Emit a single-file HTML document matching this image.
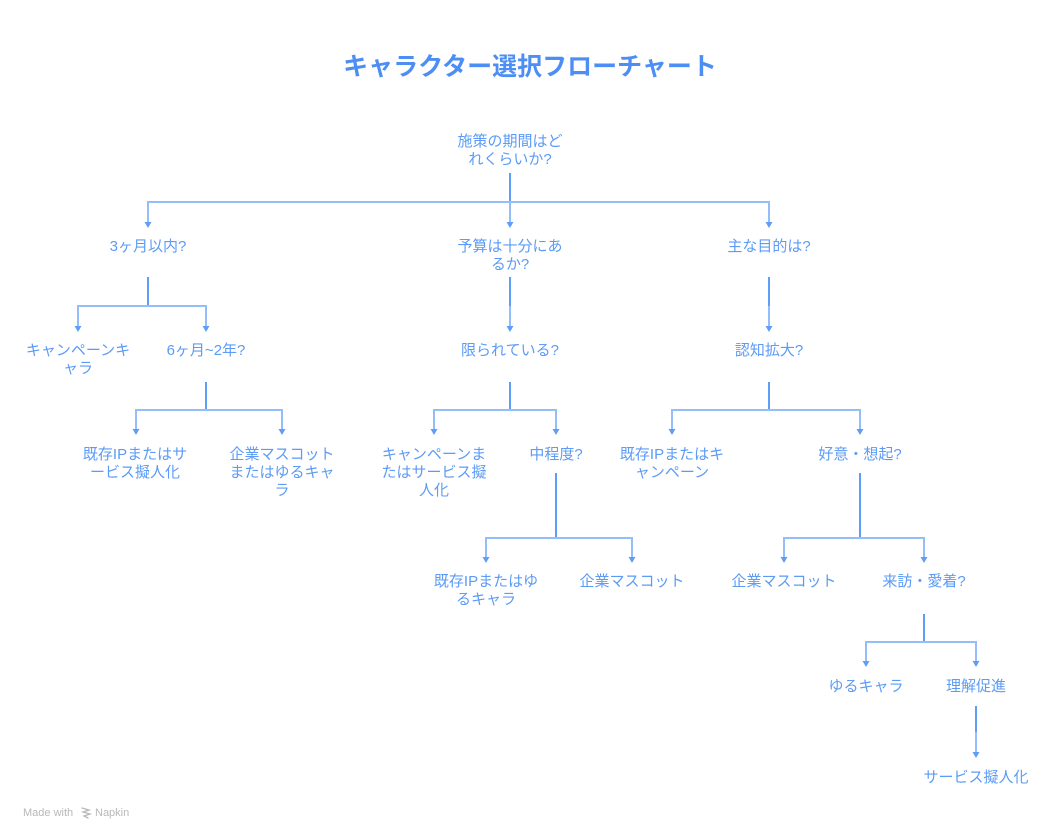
<!DOCTYPE html>
<html>
<head>
<meta charset="utf-8">
<style>
  html, body { margin: 0; padding: 0; background: #ffffff; }
  body { width: 1060px; height: 840px; overflow: hidden; }
  svg { display: block; }
  .t { font-family: "Liberation Sans", "Noto Sans CJK JP", sans-serif; font-size: 15px; fill: #5c9bf6; text-anchor: middle; }
  .title { font-family: "Liberation Sans", "Noto Sans CJK JP", sans-serif; font-size: 25px; font-weight: bold; fill: #4d8ef5; text-anchor: middle; }
  .s { stroke: #5e9df8; stroke-width: 2; fill: none; }
  .b { stroke: #94bdfb; stroke-width: 2; fill: none; }
  .h { fill: #5e9df8; }
  .wm { font-family: "Liberation Sans", sans-serif; font-size: 11px; fill: #b8b8b8; }
</style>
</head>
<body>
<svg width="1060" height="840" viewBox="0 0 1060 840" xmlns="http://www.w3.org/2000/svg">
  <text class="title" x="530" y="75">キャラクター選択フローチャート</text>

  <!-- Root -->
  <text class="t" x="510" y="146">施策の期間はど</text>
  <text class="t" x="510" y="164">れくらいか?</text>

  <!-- Level 1 connectors -->
  <line class="s" x1="510" y1="173" x2="510" y2="202"/>
  <line class="b" x1="147" y1="202" x2="770" y2="202"/>
  <line class="b" x1="148" y1="202" x2="148" y2="223"/>
  <line class="b" x1="510" y1="202" x2="510" y2="223"/>
  <line class="b" x1="769" y1="202" x2="769" y2="223"/>
  <polygon class="h" points="144.5,222 151.5,222 148,228"/>
  <polygon class="h" points="506.5,222 513.5,222 510,228"/>
  <polygon class="h" points="765.5,222 772.5,222 769,228"/>

  <!-- Level 1 nodes -->
  <text class="t" x="148" y="251">3ヶ月以内?</text>
  <text class="t" x="510" y="251">予算は十分にあ</text>
  <text class="t" x="510" y="269">るか?</text>
  <text class="t" x="769" y="251">主な目的は?</text>

  <!-- Level 2 connectors -->
  <line class="s" x1="148" y1="277" x2="148" y2="306"/>
  <line class="b" x1="77" y1="306" x2="207" y2="306"/>
  <line class="b" x1="78" y1="306" x2="78" y2="327"/>
  <line class="b" x1="206" y1="306" x2="206" y2="327"/>
  <polygon class="h" points="74.5,326 81.5,326 78,332"/>
  <polygon class="h" points="202.5,326 209.5,326 206,332"/>

  <line class="s" x1="510" y1="277" x2="510" y2="306"/>
  <line class="b" x1="510" y1="306" x2="510" y2="327"/>
  <polygon class="h" points="506.5,326 513.5,326 510,332"/>

  <line class="s" x1="769" y1="277" x2="769" y2="306"/>
  <line class="b" x1="769" y1="306" x2="769" y2="327"/>
  <polygon class="h" points="765.5,326 772.5,326 769,332"/>

  <!-- Level 2 nodes -->
  <text class="t" x="78" y="355">キャンペーンキ</text>
  <text class="t" x="78" y="373">ャラ</text>
  <text class="t" x="206" y="355">6ヶ月~2年?</text>
  <text class="t" x="510" y="355">限られている?</text>
  <text class="t" x="769" y="355">認知拡大?</text>

  <!-- Level 3 connectors -->
  <line class="s" x1="206" y1="382" x2="206" y2="410"/>
  <line class="b" x1="135" y1="410" x2="283" y2="410"/>
  <line class="b" x1="136" y1="410" x2="136" y2="430"/>
  <line class="b" x1="282" y1="410" x2="282" y2="430"/>
  <polygon class="h" points="132.5,429 139.5,429 136,435"/>
  <polygon class="h" points="278.5,429 285.5,429 282,435"/>

  <line class="s" x1="510" y1="382" x2="510" y2="410"/>
  <line class="b" x1="433" y1="410" x2="557" y2="410"/>
  <line class="b" x1="434" y1="410" x2="434" y2="430"/>
  <line class="b" x1="556" y1="410" x2="556" y2="430"/>
  <polygon class="h" points="430.5,429 437.5,429 434,435"/>
  <polygon class="h" points="552.5,429 559.5,429 556,435"/>

  <line class="s" x1="769" y1="382" x2="769" y2="410"/>
  <line class="b" x1="671" y1="410" x2="861" y2="410"/>
  <line class="b" x1="672" y1="410" x2="672" y2="430"/>
  <line class="b" x1="860" y1="410" x2="860" y2="430"/>
  <polygon class="h" points="668.5,429 675.5,429 672,435"/>
  <polygon class="h" points="856.5,429 863.5,429 860,435"/>

  <!-- Level 3 nodes -->
  <text class="t" x="135" y="459">既存IPまたはサ</text>
  <text class="t" x="135" y="477">ービス擬人化</text>
  <text class="t" x="282" y="459">企業マスコット</text>
  <text class="t" x="282" y="477">またはゆるキャ</text>
  <text class="t" x="282" y="495">ラ</text>
  <text class="t" x="434" y="459">キャンペーンま</text>
  <text class="t" x="434" y="477">たはサービス擬</text>
  <text class="t" x="434" y="495">人化</text>
  <text class="t" x="556" y="459">中程度?</text>
  <text class="t" x="672" y="459">既存IPまたはキ</text>
  <text class="t" x="672" y="477">ャンペーン</text>
  <text class="t" x="860" y="459">好意・想起?</text>

  <!-- Level 4 connectors -->
  <line class="s" x1="556" y1="473" x2="556" y2="538"/>
  <line class="b" x1="485" y1="538" x2="633" y2="538"/>
  <line class="b" x1="486" y1="538" x2="486" y2="558"/>
  <line class="b" x1="632" y1="538" x2="632" y2="558"/>
  <polygon class="h" points="482.5,557 489.5,557 486,563"/>
  <polygon class="h" points="628.5,557 635.5,557 632,563"/>

  <line class="s" x1="860" y1="473" x2="860" y2="538"/>
  <line class="b" x1="783" y1="538" x2="925" y2="538"/>
  <line class="b" x1="784" y1="538" x2="784" y2="558"/>
  <line class="b" x1="924" y1="538" x2="924" y2="558"/>
  <polygon class="h" points="780.5,557 787.5,557 784,563"/>
  <polygon class="h" points="920.5,557 927.5,557 924,563"/>

  <!-- Level 4 nodes -->
  <text class="t" x="486" y="586">既存IPまたはゆ</text>
  <text class="t" x="486" y="604">るキャラ</text>
  <text class="t" x="632" y="586">企業マスコット</text>
  <text class="t" x="784" y="586">企業マスコット</text>
  <text class="t" x="924" y="586">来訪・愛着?</text>

  <!-- Level 5 connectors -->
  <line class="s" x1="924" y1="614" x2="924" y2="642"/>
  <line class="b" x1="865" y1="642" x2="977" y2="642"/>
  <line class="b" x1="866" y1="642" x2="866" y2="662"/>
  <line class="b" x1="976" y1="642" x2="976" y2="662"/>
  <polygon class="h" points="862.5,661 869.5,661 866,667"/>
  <polygon class="h" points="972.5,661 979.5,661 976,667"/>

  <!-- Level 5 nodes -->
  <text class="t" x="866" y="691">ゆるキャラ</text>
  <text class="t" x="976" y="691">理解促進</text>

  <!-- Level 6 -->
  <line class="s" x1="976" y1="706" x2="976" y2="732"/>
  <line class="b" x1="976" y1="732" x2="976" y2="753"/>
  <polygon class="h" points="972.5,752 979.5,752 976,758"/>
  <text class="t" x="976" y="782">サービス擬人化</text>

  <!-- Watermark -->
  <text class="wm" x="23" y="816">Made with</text>
  <g stroke="#b8b8b8" stroke-width="1.3" fill="none" stroke-linecap="round">
    <path d="M82 808 L89 810 L83 812 L90 814 L84 816 L88 818"/>
  </g>
  <text class="wm" x="95" y="816">Napkin</text>
</svg>
</body>
</html>
